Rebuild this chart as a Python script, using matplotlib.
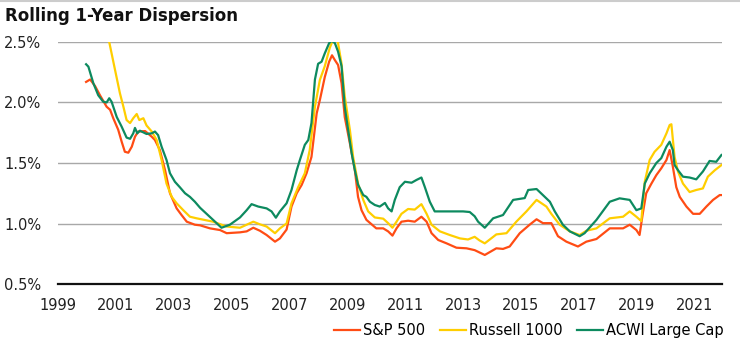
import matplotlib.pyplot as plt
from matplotlib.lines import Line2D
from matplotlib.ticker import FuncFormatter

# decimal years and dispersion (%)
sp_years = [1999.97, 2000.11, 2000.28, 2000.45, 2000.68, 2000.80, 2000.91, 2001.08, 2001.20,
            2001.31, 2001.43, 2001.55, 2001.66, 2001.77, 2002.01, 2002.24, 2002.35, 2002.52,
            2002.70, 2002.87, 2003.10, 2003.27, 2003.45, 2003.73, 2003.91, 2004.25, 2004.60,
            2004.83, 2005.29, 2005.52, 2005.75, 2005.98, 2006.21, 2006.50, 2006.67, 2006.90,
            2007.07, 2007.25, 2007.42, 2007.59, 2007.76, 2007.94, 2008.05, 2008.22, 2008.37,
            2008.47, 2008.57, 2008.68, 2008.80, 2008.91, 2009.09, 2009.26, 2009.37, 2009.49,
            2009.66, 2010.00, 2010.24, 2010.41, 2010.56, 2010.70, 2010.87, 2011.10, 2011.33,
            2011.56, 2011.74, 2011.91, 2012.14, 2012.43, 2012.77, 2013.12, 2013.40, 2013.75,
            2014.15, 2014.38, 2014.61, 2014.96, 2015.30, 2015.54, 2015.76, 2016.05, 2016.28,
            2016.57, 2016.97, 2017.26, 2017.61, 2018.07, 2018.53, 2018.76, 2018.99, 2019.10,
            2019.21, 2019.33, 2019.51, 2019.68, 2019.85, 2020.03, 2020.14, 2020.25, 2020.37,
            2020.49, 2020.72, 2020.95, 2021.18, 2021.41, 2021.64, 2021.87, 2021.93]
sp_vals = [2.17, 2.19, 2.136, 2.06, 1.965, 1.94, 1.87, 1.775, 1.676,
           1.593, 1.585, 1.635, 1.717, 1.76, 1.764, 1.717, 1.69, 1.607,
           1.44, 1.25, 1.125, 1.07, 1.015, 0.99, 0.985, 0.96, 0.946,
           0.92, 0.927, 0.935, 0.965, 0.94, 0.905, 0.85, 0.877, 0.95,
           1.14, 1.25, 1.318, 1.415, 1.55, 1.91, 2.02, 2.21, 2.337,
           2.39, 2.35, 2.31, 2.16, 1.88, 1.66, 1.44, 1.22, 1.11,
           1.03, 0.96, 0.96, 0.935, 0.90, 0.96, 1.015, 1.023, 1.015,
           1.056, 1.015, 0.92, 0.864, 0.836, 0.80, 0.795, 0.78, 0.74,
           0.795, 0.79, 0.81, 0.92, 0.99, 1.035, 1.003, 1.003, 0.895,
           0.85, 0.81, 0.85, 0.872, 0.96, 0.96, 0.99, 0.946, 0.905,
           1.08, 1.25, 1.33, 1.40, 1.456, 1.525, 1.607, 1.47, 1.30,
           1.22, 1.14, 1.08, 1.08, 1.14, 1.195, 1.235, 1.235]

r1000_years = [1999.97, 2000.38, 2000.77, 2000.97, 2001.14, 2001.26, 2001.37, 2001.49, 2001.60,
               2001.72, 2001.81, 2001.95, 2002.06, 2002.24, 2002.41, 2002.58, 2002.75, 2002.93,
               2003.10, 2003.33, 2003.56, 2003.79, 2004.36, 2004.83, 2005.29, 2005.52, 2005.75,
               2005.98, 2006.21, 2006.50, 2006.67, 2006.90, 2007.07, 2007.30, 2007.53, 2007.70,
               2007.88, 2008.05, 2008.22, 2008.39, 2008.51, 2008.60, 2008.68, 2008.80, 2008.91,
               2009.09, 2009.20, 2009.37, 2009.55, 2009.72, 2009.95, 2010.24, 2010.41, 2010.56,
               2010.70, 2010.87, 2011.10, 2011.33, 2011.56, 2011.74, 2011.91, 2012.20, 2012.54,
               2012.89, 2013.17, 2013.40, 2013.57, 2013.75, 2014.15, 2014.50, 2014.84, 2015.19,
               2015.54, 2015.88, 2016.05, 2016.34, 2016.69, 2017.03, 2017.26, 2017.61, 2018.07,
               2018.53, 2018.76, 2018.99, 2019.16, 2019.28, 2019.45, 2019.62, 2019.85, 2020.03,
               2020.14, 2020.20, 2020.31, 2020.43, 2020.60, 2020.83, 2021.06, 2021.29, 2021.46,
               2021.70, 2021.93]
r1000_vals = [3.4, 2.95, 2.5, 2.27, 2.076, 1.965, 1.855, 1.83, 1.87,
              1.905, 1.855, 1.87, 1.81, 1.76, 1.69, 1.525, 1.33, 1.22,
              1.167, 1.11, 1.056, 1.043, 1.015, 0.975, 0.965, 0.99, 1.015,
              0.993, 0.975, 0.92, 0.96, 1.0, 1.167, 1.30, 1.415, 1.607,
              1.965, 2.186, 2.30, 2.45, 2.52, 2.56, 2.49, 2.32, 2.05,
              1.77, 1.55, 1.33, 1.195, 1.10, 1.05, 1.04, 1.003, 0.965,
              1.015, 1.08, 1.12, 1.115, 1.16, 1.08, 0.99, 0.935, 0.905,
              0.877, 0.868, 0.89, 0.86, 0.836, 0.91, 0.92, 1.015, 1.10,
              1.195, 1.14, 1.08, 0.99, 0.935, 0.905, 0.94, 0.96, 1.043,
              1.056, 1.10, 1.056, 1.02, 1.345, 1.525, 1.593, 1.65, 1.745,
              1.814, 1.82, 1.55, 1.428, 1.33, 1.26, 1.277, 1.29, 1.387,
              1.44, 1.483]

acwi_years = [1999.97, 2000.05, 2000.22, 2000.39, 2000.56, 2000.68, 2000.77, 2000.85, 2001.03,
              2001.20, 2001.37, 2001.49, 2001.60, 2001.66, 2001.74, 2001.83, 2002.06, 2002.24,
              2002.35, 2002.46, 2002.58, 2002.75, 2002.87, 2003.04, 2003.21, 2003.39, 2003.56,
              2003.73, 2003.91, 2004.36, 2004.65, 2004.94, 2005.29, 2005.52, 2005.69, 2005.92,
              2006.21, 2006.38, 2006.53, 2006.67, 2006.90, 2007.07, 2007.25, 2007.36, 2007.53,
              2007.65, 2007.76, 2007.88, 2007.99, 2008.11, 2008.22, 2008.37, 2008.46, 2008.57,
              2008.68, 2008.80, 2008.91, 2009.03, 2009.15, 2009.26, 2009.37, 2009.55, 2009.66,
              2009.78, 2009.95, 2010.12, 2010.30, 2010.41, 2010.53, 2010.64, 2010.81, 2010.99,
              2011.22, 2011.39, 2011.56, 2011.68, 2011.85, 2012.02, 2012.31, 2012.66, 2013.00,
              2013.23, 2013.40, 2013.52, 2013.75, 2014.04, 2014.38, 2014.73, 2015.13, 2015.25,
              2015.54, 2015.65, 2016.00, 2016.17, 2016.45, 2016.69, 2017.03, 2017.20, 2017.61,
              2018.07, 2018.41, 2018.76, 2018.99, 2019.16, 2019.28, 2019.45, 2019.68, 2019.85,
              2020.03, 2020.14, 2020.25, 2020.31, 2020.43, 2020.60, 2020.83, 2021.06, 2021.29,
              2021.52, 2021.75, 2021.93]
acwi_vals = [2.316, 2.296, 2.16, 2.06, 2.007, 2.0, 2.035, 2.007, 1.88,
             1.80, 1.71, 1.70, 1.745, 1.79, 1.745, 1.767, 1.74, 1.745,
             1.76, 1.73, 1.635, 1.525, 1.415, 1.345, 1.30, 1.25, 1.22,
             1.18, 1.13, 1.03, 0.965, 0.99, 1.05, 1.11, 1.16, 1.14,
             1.125, 1.10, 1.048, 1.10, 1.167, 1.277, 1.44, 1.525, 1.65,
             1.69, 1.83, 2.19, 2.32, 2.337, 2.406, 2.49, 2.51, 2.49,
             2.42, 2.30, 1.965, 1.77, 1.58, 1.44, 1.32, 1.235, 1.22,
             1.18, 1.153, 1.14, 1.17, 1.125, 1.10, 1.195, 1.30, 1.345,
             1.337, 1.36, 1.38, 1.30, 1.18, 1.10, 1.10, 1.10, 1.10,
             1.095, 1.06, 1.015, 0.965, 1.043, 1.07, 1.195, 1.21, 1.277,
             1.285, 1.26, 1.18, 1.10, 0.99, 0.935, 0.895, 0.92, 1.03,
             1.18, 1.208, 1.195, 1.11, 1.125, 1.33, 1.415, 1.50, 1.54,
             1.635, 1.676, 1.607, 1.483, 1.44, 1.387, 1.38, 1.365, 1.43,
             1.517, 1.51, 1.566]

series_names = ['S&P 500', 'Russell 1000', 'ACWI Large Cap']
colors = ['#ff4c14', '#ffce00', '#0d8a5f']
year_ticks = list(range(1999, 2022, 2))
pct_ticks = [0.5, 1.0, 1.5, 2.0, 2.5]

plt.rcParams['font.family'] = ['DejaVu Sans']

fig = plt.figure(figsize=(7.4, 3.49), dpi=100)
ax = fig.add_axes([0.0784, 0.1862, 0.8973, 0.6935])

ax.plot(sp_years, sp_vals, color=colors[0], lw=1.6)
ax.plot(r1000_years, r1000_vals, color=colors[1], lw=1.6)
ax.plot(acwi_years, acwi_vals, color=colors[2], lw=1.6)

ax.set_xlim(1999, 2021.95)
ax.set_ylim(0.5, 2.5)
ax.set_xticks(year_ticks)
ax.set_yticks(pct_ticks)
ax.yaxis.set_major_formatter(FuncFormatter(lambda v, p: f'{v:.1f}%'))
ax.tick_params(axis='both', length=0, labelsize=10.5, colors='#222222')
ax.tick_params(axis='x', pad=10)
ax.tick_params(axis='y', pad=12)
ax.grid(axis='y', color='#a8a8a8', lw=1.0)
ax.set_axisbelow(True)
for s in ['top', 'right', 'left']:
    ax.spines[s].set_visible(False)
ax.spines['bottom'].set_color('#111111')
ax.spines['bottom'].set_linewidth(1.6)

fig.text(0.007, 0.955, 'Rolling 1-Year Dispersion', fontsize=12, fontweight='bold',
         ha='left', va='center', color='#111111')
fig.add_artist(Line2D([0, 1], [0.998, 0.998], color='#cccccc', lw=1.5,
                      transform=fig.transFigure))

handles = [Line2D([], [], color=c, lw=1.6) for c in colors]
fig.legend(handles, series_names, loc='center right', bbox_to_anchor=(0.986, 0.052),
           ncol=3, frameon=False, fontsize=10.5, handlelength=1.8, handletextpad=0.2,
           columnspacing=1.0, borderaxespad=0)

fig.savefig('out.png', dpi=100)
